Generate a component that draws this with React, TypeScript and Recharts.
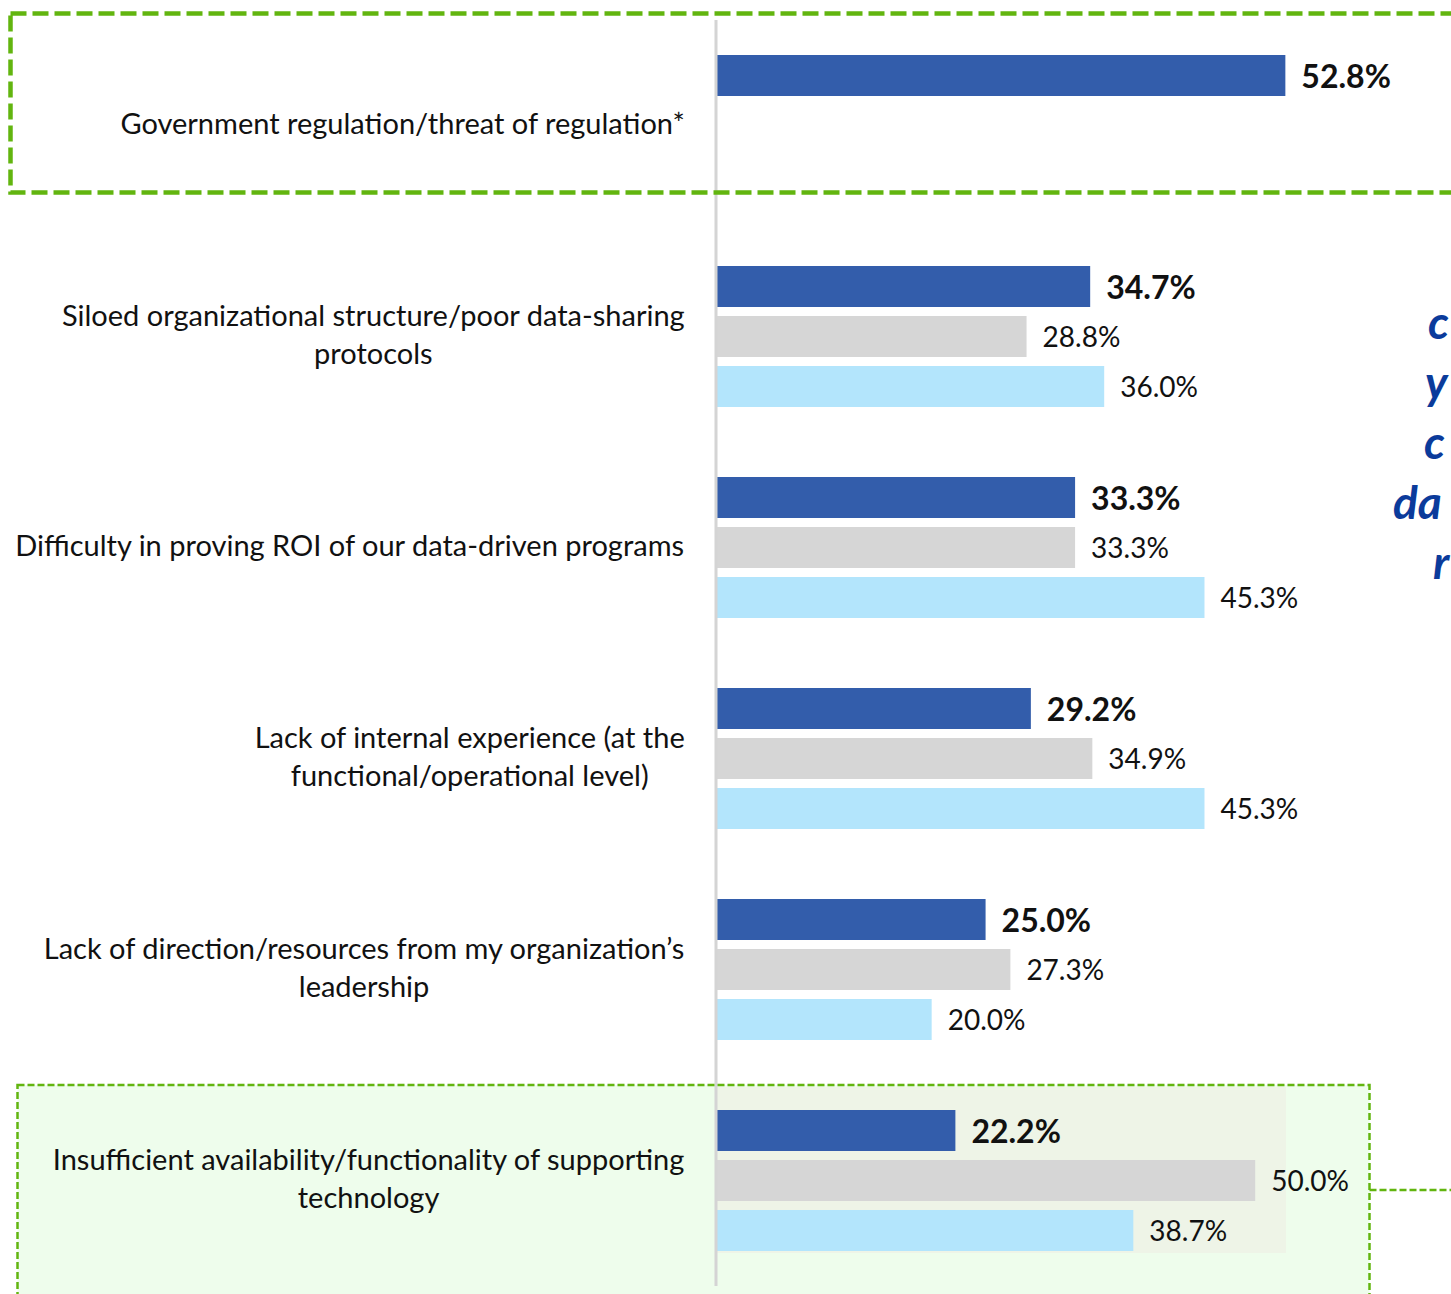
import React from 'react';
import { BarChart, Bar, XAxis, YAxis, LabelList } from 'recharts';

const categories = [
  'Government regulation/threat of regulation*',
  'Siloed organizational structure/poor data-sharing\nprotocols',
  'Difficulty in proving ROI of our data-driven programs',
  'Lack of internal experience (at the\nfunctional/operational level)',
  'Lack of direction/resources from my organization\u2019s\nleadership',
  'Insufficient availability/functionality of supporting\ntechnology',
];
const seriesDark = [52.8, 34.7, 33.3, 29.2, 25.0, 22.2];
const seriesGray = [null, 28.8, 33.3, 34.9, 27.3, 50.0];
const seriesLight = [null, 36.0, 45.3, 45.3, 20.0, 38.7];
const rightNoteFragments = ['c', 'y', 'c', 'da', 'r'];

const data = categories.map((name, i) => ({
  name,
  dark: seriesDark[i],
  gray: seriesGray[i],
  light: seriesLight[i],
}));

const W = 1451;
const H = 1294;
const LABEL_FONT = 'Lato, "Noto Sans", sans-serif';
const LABEL_SIZE = 29;
const LABEL_RIGHT = 685;
const LINE_H = 38;

let ctx: CanvasRenderingContext2D | null = null;
function measure(text: string, font: string): number {
  if (!ctx) {
    const c = document.createElement('canvas');
    ctx = c.getContext('2d');
  }
  if (!ctx) return text.length * 13;
  ctx.font = font;
  return ctx.measureText(text).width;
}

const CategoryTick = (props: any) => {
  const { y, payload } = props;
  const lines = String(payload.value).split('\n');
  const font = `${LABEL_SIZE}px Lato`;
  const maxW = Math.max(...lines.map((l) => measure(l, font)));
  const cx = LABEL_RIGHT - maxW / 2;
  const startY = y - 2 - ((lines.length - 1) * LINE_H) / 2;
  return (
    <text
      textAnchor="middle"
      fontFamily={LABEL_FONT}
      fontSize={LABEL_SIZE}
      fill="#111"
    >
      {lines.map((l, i) => (
        <tspan key={i} x={cx} y={startY + i * LINE_H} dy="0.35em">
          {l}
        </tspan>
      ))}
    </text>
  );
};

const makeValueLabel = (bold: boolean) => (props: any) => {
  const { x, y, width, height, value } = props;
  if (value === null || value === undefined) return null;
  return (
    <text
      x={Number(x) + Number(width) + 16}
      y={Number(y) + Number(height) / 2 + 1}
      dy="0.35em"
      fontFamily={LABEL_FONT}
      fontSize={bold ? 32 : 28}
      fontWeight={bold ? 700 : 400}
      fill="#111"
    >
      {Number(value).toFixed(1)}%
    </text>
  );
};

export default function App() {
  return (
    <div
      style={{
        position: 'absolute',
        left: 0,
        top: 0,
        width: W,
        height: H,
        overflow: 'hidden',
        background: '#fff',
      }}
    >
      <svg
        width={W}
        height={H}
        style={{ position: 'absolute', left: 0, top: 0 }}
      >
        <rect x={17.5} y={1085} width={1352} height={260} fill="#EEFDEC" />
        <rect x={716} y={1087} width={570} height={166} fill="#EEF4E7" />
      </svg>
      <div style={{ position: 'absolute', left: 0, top: 0 }}>
        <BarChart
          width={W}
          height={H}
          data={data}
          layout="vertical"
          margin={{ top: 20, right: 88, bottom: 8, left: 0 }}
          barGap={9}
        >
          <XAxis type="number" domain={[0, 60]} hide />
          <YAxis
            type="category"
            dataKey="name"
            width={716}
            tickLine={false}
            axisLine={{ stroke: '#d4d4d4', strokeWidth: 3 }}
            tick={<CategoryTick />}
            interval={0}
          />
          <Bar dataKey="dark" fill="#335DAB" barSize={41} isAnimationActive={false}>
            <LabelList dataKey="dark" content={makeValueLabel(true)} />
          </Bar>
          <Bar dataKey="gray" fill="#D6D6D6" barSize={41} isAnimationActive={false}>
            <LabelList dataKey="gray" content={makeValueLabel(false)} />
          </Bar>
          <Bar dataKey="light" fill="#B3E5FC" barSize={41} isAnimationActive={false}>
            <LabelList dataKey="light" content={makeValueLabel(false)} />
          </Bar>
        </BarChart>
      </div>
      <svg
        width={W}
        height={H}
        style={{ position: 'absolute', left: 0, top: 0, pointerEvents: 'none' }}
      >
        <rect
          x={10.5}
          y={13.5}
          width={1480}
          height={179}
          fill="none"
          stroke="#62B50F"
          strokeWidth={4.5}
          strokeDasharray="16 6"
        />
        <rect
          x={17.5}
          y={1085}
          width={1352}
          height={260}
          fill="none"
          stroke="#62B50F"
          strokeWidth={2.5}
          strokeDasharray="7 3"
        />
        <line
          x1={1369.5}
          y1={1190}
          x2={1460}
          y2={1190}
          stroke="#62B50F"
          strokeWidth={2.5}
          strokeDasharray="7 3"
        />
        <g
          fontFamily={LABEL_FONT}
          fontSize={46}
          fontWeight={700}
          fontStyle="italic"
          fill="#0B3B9B"
        >
          <text x={1428} y={339}>{rightNoteFragments[0]}</text>
          <text x={1425} y={399}>{rightNoteFragments[1]}</text>
          <text x={1424} y={459}>{rightNoteFragments[2]}</text>
          <text x={1393} y={519}>{rightNoteFragments[3]}</text>
          <text x={1433} y={579}>{rightNoteFragments[4]}</text>
        </g>
      </svg>
    </div>
  );
}
